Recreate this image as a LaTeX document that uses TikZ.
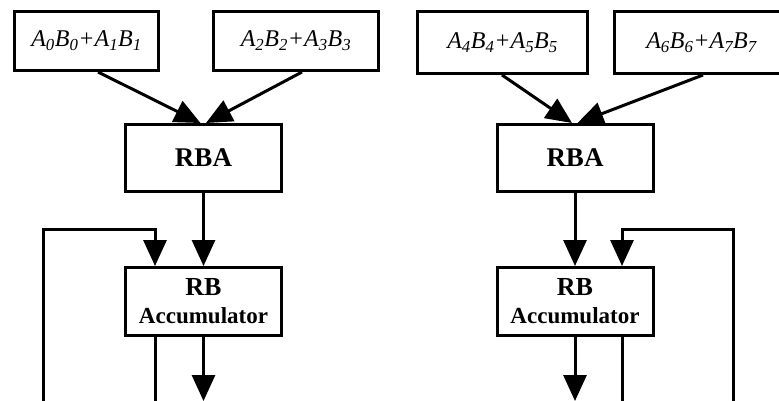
\documentclass[tikz,border=0pt]{standalone}
\usepackage{fontspec}
\setmainfont{Liberation Serif}
\usetikzlibrary{arrows.meta}

\newcommand{\pr}[2]{A\textsubscript{#1}B\textsubscript{#1}+A\textsubscript{#2}B\textsubscript{#2}}

\begin{document}
\begin{tikzpicture}[x=1pt, y=-1pt, line width=3pt,
	box/.style={draw, line width=3pt, inner sep=0pt},
	term/.style={box, font=\fontsize{24}{24}\selectfont\itshape},
	unit/.style={box, minimum width=156pt, font=\fontsize{23}{28}\selectfont\bfseries, align=center},
	feed/.style={-{Triangle[width=23pt,length=26pt]}}]
	\useasboundingbox (0,0) rectangle (779,400);
	\clip (0,0) rectangle (779,400);
	% product terms
	\node[term, minimum width=144pt, minimum height=59pt] (p1) at (86.5, 41) {\pr{0}{1}};
	\node[term, minimum width=165pt, minimum height=59pt] (p2) at (296, 41) {\pr{2}{3}};
	\node[term, minimum width=170pt, minimum height=62pt] (p3) at (502.5, 42.5) {\pr{4}{5}};
	\node[term, minimum width=175pt, minimum height=62pt] (p4) at (701.5, 42.5) {\pr{6}{7}};
	% adders
	\node[unit, minimum height=67pt, font=\fontsize{27}{27}\selectfont\bfseries] (rba1) at (203.5, 158) {RBA};
	\node[unit, minimum height=67pt, font=\fontsize{27}{27}\selectfont\bfseries] (rba2) at (575, 158) {RBA};
	% accumulators
	\node[unit, minimum height=68pt] (acc1) at (203.5, 301.5) {{\fontsize{26}{28}\selectfont RB}\\Accumulator};
	\node[unit, minimum height=68pt] (acc2) at (575, 301.5) {{\fontsize{26}{28}\selectfont RB}\\Accumulator};
	\coordinate (out1) at (203.5, 401);
	\coordinate (out2) at (575, 401);
	\draw[feed] ([xshift=11.5pt]p1.south) -- ([xshift=-3pt]rba1.north);
	\draw[feed] ([xshift=6pt]p2.south) -- ([xshift=2.5pt]rba1.north);
	\draw[feed] ([xshift=-0.5pt]p3.south) -- ([xshift=-3pt]rba2.north);
	\draw[feed] ([xshift=1.5pt]p4.south) -- ([xshift=2.5pt]rba2.north);
	\draw[feed] (rba1.south) -- (acc1.north);
	\draw[feed] (rba2.south) -- (acc2.north);
	\draw[feed] (acc1.south) -- (out1);
	\draw[feed] (acc2.south) -- (out2);
	% feedback loops
	\draw[feed] ([xshift=-48.5pt]acc1.south) -- ++(0,90) -| (43,229) -| ([xshift=-48.5pt]acc1.north);
	\draw[feed] ([xshift=47pt]acc2.south) -- ++(0,90) -| (733,229) -| ([xshift=47pt]acc2.north);
\end{tikzpicture}
\end{document}
